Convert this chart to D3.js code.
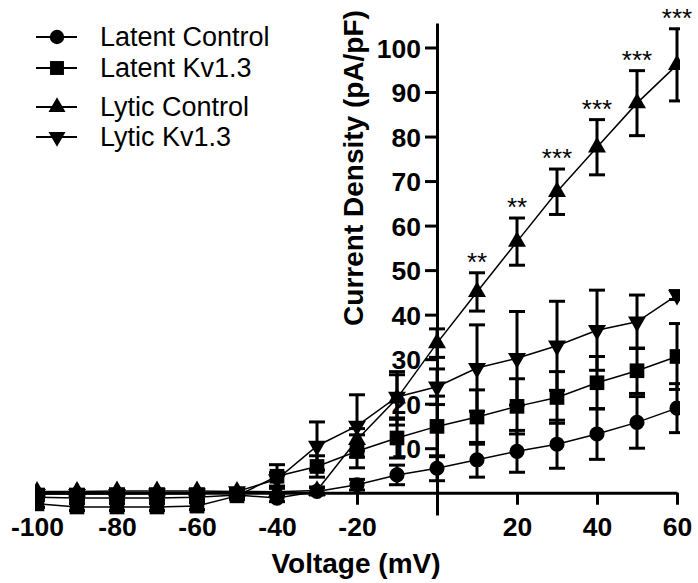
<!DOCTYPE html>
<html>
<head>
<meta charset="utf-8">
<script src="https://cdn.jsdelivr.net/npm/d3@7"></script>
<style>
    body { margin: 0; background: #fff; }
    text { font-family: "Liberation Sans", Arial, sans-serif; fill: #000; }
</style>
</head>
<body>
<div id="chart"></div>
<script>
// values (mV, pA/pF, SEM)
const voltages = [-100, -90, -80, -70, -60, -50, -40, -30, -20, -10, 0, 10, 20, 30, 40, 50, 60];

const latentControl    = [-1.0, -1.2, -1.2, -1.2, -1.0, -0.5, -1.2, 0.3, 1.8, 4.0, 5.5, 7.4, 9.3, 10.9, 13.2, 15.8, 19.0];
const latentControlErr = [0.5, 0.5, 0.5, 0.5, 0.5, 0.5, 0.8, 0.8, 1.2, 2.2, 2.8, 3.9, 4.7, 5.4, 5.7, 5.8, 5.5];

const latentKv    = [-2.5, -3.2, -3.2, -3.2, -3.0, -0.7, 3.7, 5.9, 9.3, 12.3, 14.9, 17.0, 19.4, 21.4, 24.7, 27.4, 30.6];
const latentKvErr = [0.8, 0.8, 0.8, 0.8, 0.8, 0.8, 2.6, 2.4, 3.7, 4.5, 6.8, 6.1, 6.2, 5.8, 5.9, 5.1, 7.4];

const lyticControl    = [0.3, 0.3, 0.4, 0.4, 0.4, 0.3, 0.2, 0.5, 11.9, 21.2, 33.6, 45.1, 56.4, 67.6, 77.6, 87.5, 96.1];
const lyticControlErr = [0.5, 0.5, 0.5, 0.5, 0.5, 0.5, 0.8, 0.8, 2.5, 6.0, 3.2, 4.3, 5.3, 5.1, 6.2, 7.3, 8.1];

const lyticKv    = [-0.3, -0.3, -0.3, -0.2, -0.2, 0.3, 3.0, 10.5, 15.0, 21.5, 23.8, 28.0, 30.2, 33.0, 36.5, 38.4, 44.4];
const lyticKvErr = [0.5, 0.5, 0.5, 0.5, 0.5, 0.5, 1.5, 5.4, 7.0, 5.0, 4.0, 9.7, 10.5, 10.0, 9.0, 6.0, 1.0];

// significance marks above Lytic Control
const sigLabels = ["", "", "", "", "", "", "", "", "", "", "", "**", "**", "***", "***", "***", "***"];

const seriesNames = ["Latent Control", "Latent Kv1.3", "Lytic Control", "Lytic Kv1.3"];
const xTicks = [-100, -80, -60, -40, -20, 0, 20, 40, 60];
const yTicks = [10, 20, 30, 40, 50, 60, 70, 80, 90, 100];

const width = 698;
const height = 583;

const svg = d3.select("#chart").append("svg")
    .attr("width", width)
    .attr("height", height);

const x = d3.scaleLinear().domain([-100, 60]).range([37, 677]);
const y = d3.scaleLinear().domain([-5, 105.5]).range([515, 23]);

const symbols = [
    { type: d3.symbolCircle, size: 180, rotate: 0 },
    { type: d3.symbolSquare, size: 215, rotate: 0 },
    { type: d3.symbolTriangle, size: 140, rotate: 0 },
    { type: d3.symbolTriangle, size: 140, rotate: 180 }
];

const series = [
    { name: seriesNames[0], values: latentControl, errs: latentControlErr, sym: symbols[0] },
    { name: seriesNames[1], values: latentKv, errs: latentKvErr, sym: symbols[1] },
    { name: seriesNames[2], values: lyticControl, errs: lyticControlErr, sym: symbols[2] },
    { name: seriesNames[3], values: lyticKv, errs: lyticKvErr, sym: symbols[3] }
];

// axes
const xAxis = d3.axisBottom(x)
    .tickValues(xTicks)
    .tickSize(12)
    .tickSizeOuter(0)
    .tickPadding(12)
    .tickFormat(d => d === 0 ? "" : d);

const gx = svg.append("g")
    .attr("transform", `translate(0,${y(0)})`)
    .call(xAxis);

const yAxis = d3.axisLeft(y)
    .tickValues(yTicks)
    .tickSize(12)
    .tickSizeOuter(0)
    .tickPadding(4);

const gy = svg.append("g")
    .attr("transform", `translate(${x(0)},0)`)
    .call(yAxis);

[gx, gy].forEach(g => {
    g.select(".domain").attr("stroke", "#000").attr("stroke-width", 3);
    g.selectAll(".tick line").attr("stroke", "#000").attr("stroke-width", 3);
    g.selectAll(".tick text")
        .attr("fill", "#000")
        .style("font-family", "'Liberation Sans', Arial, sans-serif")
        .style("font-size", "26.5px")
        .style("font-weight", "bold");
});
gy.selectAll(".tick text").attr("dy", "0.36em");

svg.append("text")
    .attr("x", 356)
    .attr("y", 573)
    .attr("text-anchor", "middle")
    .style("font-size", "28px")
    .style("font-weight", "bold")
    .text("Voltage (mV)");

svg.append("text")
    .attr("transform", "translate(363,168) rotate(-90)")
    .attr("text-anchor", "middle")
    .style("font-size", "28px")
    .style("font-weight", "bold")
    .text("Current Density (pA/pF)");

// data
svg.append("clipPath").attr("id", "plot-clip")
    .append("rect").attr("x", 35).attr("y", 0).attr("width", 645).attr("height", height);

const plot = svg.append("g").attr("clip-path", "url(#plot-clip)");

const line = d3.line()
    .x((d, i) => x(voltages[i]))
    .y(d => y(d));

const capHalf = 8;

series.forEach(s => {
    const g = plot.append("g");

    g.append("path")
        .datum(s.values)
        .attr("d", line)
        .attr("fill", "none")
        .attr("stroke", "#000")
        .attr("stroke-width", 1.5);

    const bars = g.selectAll(".err")
        .data(s.values.map((v, i) => ({ v: v, e: s.errs[i], mv: voltages[i] })))
        .enter().append("g");

    bars.append("line")
        .attr("x1", d => x(d.mv)).attr("x2", d => x(d.mv))
        .attr("y1", d => y(d.v - d.e)).attr("y2", d => y(d.v + d.e))
        .attr("stroke", "#000").attr("stroke-width", 3);

    [-1, 1].forEach(sign => {
        bars.append("line")
            .attr("x1", d => x(d.mv) - capHalf).attr("x2", d => x(d.mv) + capHalf)
            .attr("y1", d => y(d.v + sign * d.e)).attr("y2", d => y(d.v + sign * d.e))
            .attr("stroke", "#000").attr("stroke-width", 3);
    });

    g.selectAll(".pt")
        .data(s.values)
        .enter().append("path")
        .attr("d", d3.symbol().type(s.sym.type).size(s.sym.size))
        .attr("transform", (d, i) => `translate(${x(voltages[i])},${y(d)}) rotate(${s.sym.rotate})`)
        .attr("fill", "#000");
});

// asterisks
svg.selectAll(".sig")
    .data(sigLabels.map((t, i) => ({ t: t, mv: voltages[i], top: lyticControl[i] + lyticControlErr[i] })).filter(d => d.t))
    .enter().append("text")
    .attr("x", d => x(d.mv))
    .attr("y", d => y(d.top) - 2)
    .attr("text-anchor", "middle")
    .style("font-size", "26px")
    .text(d => d.t);

// legend
const legendRows = [37, 68, 107, 137];
const legend = svg.append("g");

series.forEach((s, i) => {
    const row = legend.append("g").attr("transform", `translate(0,${legendRows[i]})`);
    row.append("line")
        .attr("x1", 36).attr("x2", 77)
        .attr("stroke", "#000").attr("stroke-width", 2);
    row.append("path")
        .attr("d", d3.symbol().type(s.sym.type).size(s.sym.size * 0.9))
        .attr("transform", `translate(57,0) rotate(${s.sym.rotate})`)
        .attr("fill", "#000");
    row.append("text")
        .attr("x", 100)
        .attr("y", 9)
        .style("font-size", "27px")
        .text(s.name);
});
</script>
</body>
</html>
